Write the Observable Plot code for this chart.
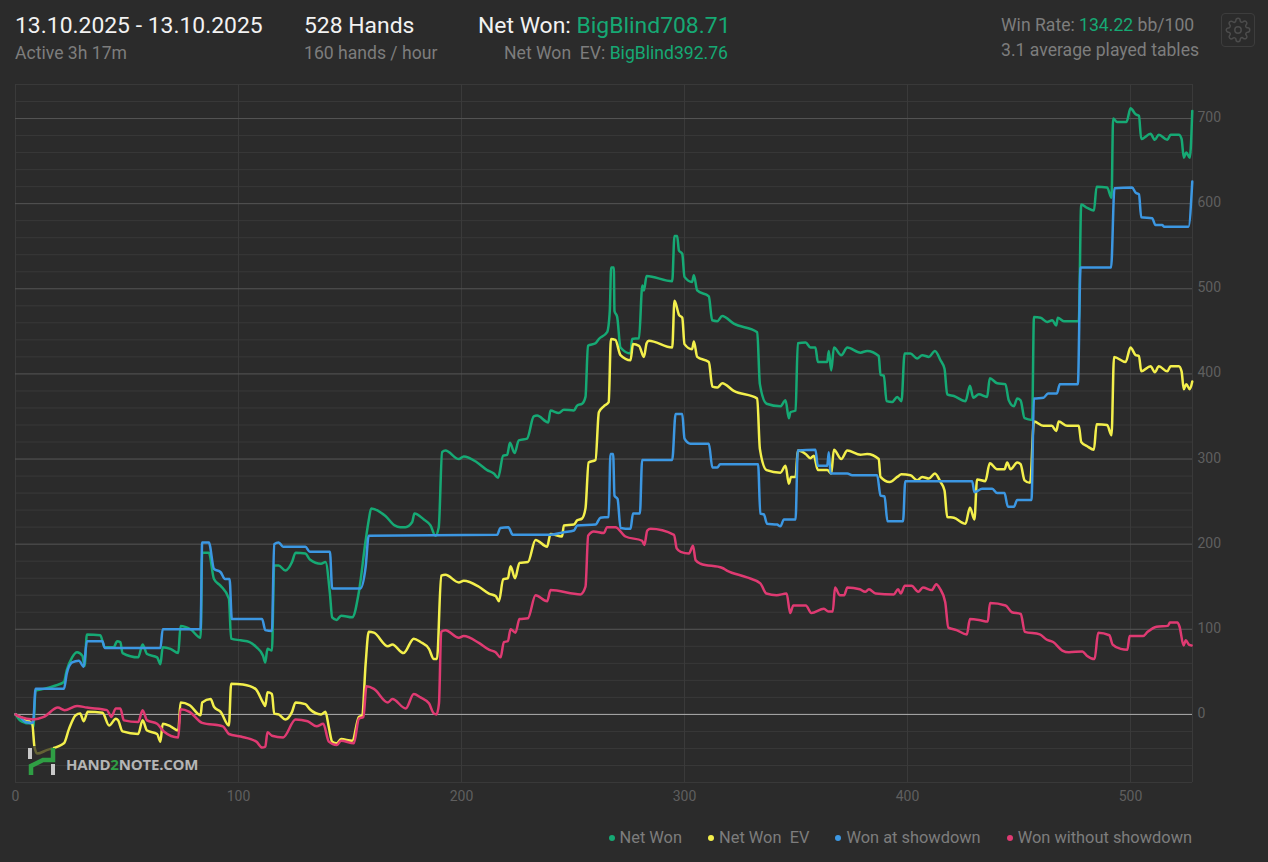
<!DOCTYPE html>
<html>
<head>
<meta charset="utf-8">
<script src="https://cdn.jsdelivr.net/npm/d3@7"></script>
<script src="https://cdn.jsdelivr.net/npm/@observablehq/plot@0.6"></script>
<style>
  html, body { margin: 0; padding: 0; background: #2b2b2b; }
  body { width: 1268px; height: 862px; position: relative; overflow: hidden; font-family: Roboto, sans-serif; color: #7d7d7d; }
  .t { position: absolute; white-space: pre; line-height: 1; }
  .big { font-size: 22.9px; color: #f2f2f2; }
  .small { font-size: 17.6px; }
  .g { color: #16a974; }
  #chart { position: absolute; left: 0; top: 76px; }
  #legend { position: absolute; right: 76px; top: 830px; display: flex; gap: 26px; font-size: 16.4px; line-height: 1; }
  #legend span.dot { display: inline-block; width: 6px; height: 6px; border-radius: 50%; margin-right: 5px; vertical-align: 2px; }
  #logo { position: absolute; left: 26px; top: 745px; }
  #logoText { position: absolute; left: 66px; top: 754px; font: 700 15px "Open Sans", sans-serif; color: #b5b5b5; letter-spacing: -.2px; }
  #gear { position: absolute; left: 1221px; top: 13px; width: 32px; height: 32px; border: 1px solid #3d3d3d; border-radius: 4px; }
</style>
</head>
<body>
<div class="t big" style="left:15px;top:15px">13.10.2025 - 13.10.2025</div>
<div class="t small" style="left:15px;top:45px">Active 3h 17m</div>
<div class="t big" style="left:304px;top:15px">528 Hands</div>
<div class="t small" style="left:304px;top:45px">160 hands / hour</div>
<div class="t big" style="left:478px;top:15px">Net Won: <span class="g">BigBlind708.71</span></div>
<div class="t small" style="left:504px;top:45px">Net Won  EV: <span class="g">BigBlind392.76</span></div>
<div class="t small" style="left:1001px;top:17px">Win Rate: <span class="g">134.22</span> bb/100</div>
<div class="t small" style="left:1001px;top:42px">3.1 average played tables</div>
<div id="gear">
  <svg width="32" height="32" viewBox="-3 -3 30 30" fill="none" stroke="#4c4c4c" stroke-width="1.4">
    <circle cx="12" cy="12" r="3"></circle>
    <path d="M19.4 15a1.65 1.65 0 0 0 .33 1.82l.06.06a2 2 0 0 1 0 2.83 2 2 0 0 1-2.83 0l-.06-.06a1.65 1.65 0 0 0-1.82-.33 1.65 1.65 0 0 0-1 1.51V21a2 2 0 0 1-2 2 2 2 0 0 1-2-2v-.09A1.65 1.65 0 0 0 9 19.4a1.65 1.65 0 0 0-1.82.33l-.06.06a2 2 0 0 1-2.83 0 2 2 0 0 1 0-2.83l.06-.06a1.65 1.65 0 0 0 .33-1.82 1.65 1.65 0 0 0-1.51-1H3a2 2 0 0 1-2-2 2 2 0 0 1 2-2h.09A1.65 1.65 0 0 0 4.6 9a1.65 1.65 0 0 0-.33-1.82l-.06-.06a2 2 0 0 1 0-2.83 2 2 0 0 1 2.83 0l.06.06a1.65 1.65 0 0 0 1.82.33H9a1.65 1.65 0 0 0 1-1.51V3a2 2 0 0 1 2-2 2 2 0 0 1 2 2v.09a1.65 1.65 0 0 0 1 1.51 1.65 1.65 0 0 0 1.82-.33l.06-.06a2 2 0 0 1 2.83 0 2 2 0 0 1 0 2.83l-.06.06a1.65 1.65 0 0 0-.33 1.82V9a1.65 1.65 0 0 0 1.51 1H21a2 2 0 0 1 2 2 2 2 0 0 1-2 2h-.09a1.65 1.65 0 0 0-1.51 1z"></path>
  </svg>
</div>
<div id="chart"></div>
<svg id="logo" width="34" height="34" viewBox="0 0 34 34">
  <rect x="6" y="1" width="21" height="13" fill="#2b2b2b" opacity=".72"></rect>
  <rect x="2" y="3" width="4" height="11" fill="#c9c9c9"></rect>
  <rect x="25" y="19" width="4" height="11" fill="#c9c9c9"></rect>
  <path d="M5 30V21L17 15H27V3" fill="none" stroke="#2f9e44" stroke-width="4.5"></path>
</svg>
<div id="logoText">HAND<span style="color:#2f9e44">2</span>NOTE.COM</div>
<div id="legend"></div>
<script>
var netWon = [[0,0],[2,-7],[4.5,-10],[7.5,-11],[8,-15],[9,28],[12.7,30],[18,34],[21.7,38],[23,52],[25.4,67],[27.6,73],[30,69],[31,57],[32,94],[38,93],[40,79],[44,79],[45.6,86],[47,85],[48,72],[55,67],[57,82],[59,71],[63.5,67],[65,59],[66,79],[69.5,77],[73,72],[74,104],[78.5,100],[83,90],[83.7,190],[86.7,190],[89,159],[92,151],[95.7,136],[96.7,89],[101,87],[105,85],[108,79],[111,69],[112,61],[113,77],[115,75],[116,175],[118,175],[121,169],[124,179],[125.6,190],[130,189],[132,182],[137,177],[139,179],[141,142],[142,114],[144,111],[146,116],[151,114],[154,144],[157,204],[158.4,228],[159.5,242],[165.9,233],[170,222],[172.6,220],[174.9,220],[177.9,226],[178.9,236],[183.1,229],[186.1,222],[188.3,210],[189.8,220],[191.3,308],[192.8,310],[198.8,300],[201,303],[207,296],[211.5,287],[214.5,283],[216.4,278],[218.7,304],[220.5,305],[221.7,319],[223.8,307],[225.7,322],[229.4,324],[232.4,350],[233.9,351],[238.9,343],[239.9,357],[243.6,354],[245.9,358],[250.4,357],[251.9,363],[254.1,365],[255.6,373],[256.7,433],[260.1,436],[261.6,441],[265.3,449],[266.5,474],[267.1,525],[268.3,525],[268.6,474],[269.8,467],[271.3,431],[275.8,424],[276.5,441],[279.6,442],[281.1,504],[281.8,498],[283,515],[294.5,509],[295.5,562],[296.7,562],[297.5,545],[299,541],[300,514],[303.4,508],[304.2,516],[305.7,498],[310.9,491],[312.4,463],[314.7,462],[316.9,468],[322.1,459],[332.6,449],[333.8,388],[336.8,365],[343,362],[345.3,369],[346.8,348],[347.5,355],[349.8,357],[350.8,436],[354.3,437],[356.5,431],[358.7,431],[359.8,414],[364,414],[364.7,427],[365.8,404],[367,431],[370.3,422],[373,431],[378.9,425],[381.9,427],[387.1,421],[387.9,399],[389.4,398],[390.6,368],[393.1,367],[395.4,373],[397.3,368],[398.7,424],[401.3,424],[404.3,418],[406.6,422],[409.6,420],[412.3,427],[414.8,416],[416.6,406],[417.8,376],[420.8,374],[426,368],[428,386],[429.5,372],[432,376],[435.7,373],[436.9,395],[440.2,389],[443.9,388],[445.4,369],[447.7,362],[449.2,371],[450.7,369],[452.5,348],[455.9,346],[456.7,467],[459.7,466],[462.6,461],[464.9,463],[466.7,457],[467.4,466],[470.1,462],[476.8,462],[477.9,599],[480.6,595],[483.6,592],[484.8,620],[489.5,619],[491.5,607],[492.2,700],[494,696],[498.2,696],[500,712],[502.3,705],[503.8,703],[504.8,676],[509,682],[510.9,675],[512.7,681],[516.5,675],[518,681],[521.7,681],[522.9,676],[523.9,654],[525,660],[526.6,654],[527.7,709]];

var netWonEv = [[0,0],[2,-3],[7.5,-11],[8.5,-38],[9.7,-46],[14,-42],[21.7,-34],[24,-17],[27,-1],[29,1],[30.6,-8],[32.4,3],[39,2],[42,-13],[45,-5],[46,-7],[48,-20],[55,-23],[57,-7],[59,-19],[63.5,-23],[65,-32],[66,-11],[69.5,-14],[73,-19],[74,14],[78,11],[83,-1],[83.7,14],[87.5,18],[89,9],[92,3],[95.7,-13],[96.7,36],[102,35],[107.6,30],[111,14],[112,10],[113,26],[115,24],[116,1],[118,0],[121,-6],[124,3],[125.6,14],[130,12],[132,6],[137,0],[139,3],[140.5,-15],[142,-32],[144,-34],[146,-29],[151,-31],[154,-3],[155.5,-1],[157,59],[158.4,97],[160.7,96],[167,80],[169,82],[174,72],[178.6,89],[181.6,85],[185.4,77],[187.6,65],[189,65],[190.9,163],[192.8,164],[198.8,155],[201,157],[207.8,150],[212.3,142],[215.3,139],[216.8,133],[218.7,159],[220.8,160],[222,174],[224,160],[226,178],[229.8,179],[233.2,205],[238.4,197],[239.9,212],[245.1,209],[245.9,222],[250.4,223],[251.9,228],[254,230],[255.6,242],[257,296],[260.1,299],[261.6,355],[263.8,362],[266,367],[267,441],[269,440],[271.3,422],[275.8,416],[276.9,435],[279.6,433],[281.8,420],[283,436],[284,439],[294.5,431],[295.5,486],[297.6,469],[299,466],[300,435],[303.4,429],[304.2,438],[305.7,420],[310.9,414],[312.5,385],[314.7,384],[316.9,389],[322.1,380],[332.6,371],[333.8,312],[336.8,287],[343,284],[345.3,292],[346.8,271],[347.8,279],[349.8,279],[350.8,310],[354.3,306],[356.5,301],[358,304],[359.8,287],[364,287],[365.8,283],[367,311],[370.3,300],[373,310],[378.9,305],[381.9,306],[387.1,300],[387.9,279],[392,273],[395.4,279],[397.3,282],[401.3,281],[404.3,275],[406.6,279],[409.6,277],[412.3,283],[414.8,273],[416.6,263],[417.8,232],[420.8,231],[426,224],[428,243],[430,229],[431.2,276],[434.9,274],[436.9,295],[440.2,288],[443.5,288],[444.7,296],[446.2,288],[449.2,296],[450.7,294],[452.5,275],[455,272],[456.7,344],[461,339],[464.7,339],[466.7,333],[467.8,344],[471.6,339],[476.8,339],[477.9,320],[480.6,315],[483.6,311],[484.8,341],[489.5,340],[491.5,328],[492.6,420],[497.8,414],[500,431],[502.3,422],[503.8,421],[504.8,403],[509,409],[510.9,402],[512.7,409],[516.5,403],[518,409],[521.7,409],[522.9,403],[523.9,382],[525,388],[526.6,382],[527.7,391]];

var wonShowdown = [[0,0],[2,-3],[4.5,-9],[7.5,-10],[8,-7],[9,30],[21.7,30],[23,48],[25.4,61],[28.4,63],[30.6,56],[32,86],[39,86],[40,78],[65,78],[66,100],[83,100],[83.7,202],[86.7,202],[89,171],[92,167],[94,159],[96,159],[97,112],[110.6,112],[112,99],[115,98],[116,200],[118,202],[120,197],[130,197],[132,191],[141,191],[142,148],[154.7,148],[157,173],[158.4,210],[216,211],[217.4,219],[221,220],[223,211],[239.9,211],[245.9,214],[250.4,216],[251.9,222],[260.1,223],[262.3,231],[266,232],[266.8,306],[268,306],[268.6,257],[270,253],[271.3,219],[275.8,218],[276.9,236],[280,236],[281,299],[294.5,299],[296,353],[299,353],[300,324],[302.7,318],[310.9,318],[312.5,290],[314.7,290],[316,294],[333,294],[334,236],[335.6,235],[337,224],[341.5,223],[343,221],[344.6,229],[349.8,229],[350.8,310],[358.7,311],[359.8,292],[364,292],[364.7,308],[365.5,283],[373,283],[375.2,281],[386.4,281],[387.9,257],[389.7,256],[391,227],[398,227],[399,274],[429,274],[430,261],[433.5,265],[438,265],[440.2,260],[443.5,260],[445,244],[447.7,244],[449.2,252],[455.6,252],[456.7,371],[461,372],[463,377],[467,377],[468.3,388],[476.4,388],[477.6,525],[491.3,525],[492.8,618],[500.7,619],[502.3,613],[503.8,611],[504.8,584],[509.7,583],[511.2,575],[514.2,575],[515,573],[526,573],[527.7,626]];

var wonNoShowdown = [[0,0],[2,-3],[8,-6],[12.7,-3],[19,8],[22,5],[27.6,10],[32,8],[41,5],[43,-3],[45,7],[47,7],[48.6,-7],[55,-9],[57,5],[59,-7],[63.5,-11],[66.5,-20],[73,-27],[74,6],[78,3],[83.7,-10],[93,-14],[95.7,-23],[101,-26],[108,-32],[110.6,-39],[112,-38],[113,-21],[115,-25],[120,-27],[125.6,-6],[131,-8],[135,-14],[138,-11],[140.5,-32],[144,-36],[146,-31],[151.7,-34],[154,-5],[156,-3],[157.4,33],[160.7,30],[167,14],[169,18],[175,7],[178.6,24],[181.6,20],[185.4,13],[187.6,1],[188.8,0],[189.9,13],[190.9,97],[192.8,99],[198.8,90],[201,92],[207.8,84],[212.3,76],[215.3,73],[217.5,67],[219,85],[220.8,86],[222,100],[224.2,96],[226,112],[229.8,113],[233.2,140],[238.4,133],[239.9,146],[253.4,141],[255.6,150],[256.8,210],[259.3,215],[263.8,213],[265.3,220],[269,220],[273.5,209],[281,204],[282,199],[283.3,216],[284.8,218],[295.3,211],[296.5,195],[298.3,191],[302,189],[303.8,198],[305,181],[307.2,177],[317,172],[319,169],[328,161],[334,154],[336.7,142],[341.3,140],[345.8,142],[347.4,119],[348.8,128],[354.4,128],[356.9,119],[362.5,124],[364.5,121],[366.5,121],[367.5,149],[369.6,140],[371.6,140],[373,149],[378.6,147],[381,144],[382.7,147],[385.7,142],[393.8,141],[395.8,147],[397,142],[398.8,151],[401.8,151],[404.8,144],[406.9,149],[410.9,146],[412.9,153],[414.5,148],[416.9,132],[418.3,102],[422,99],[426.6,94],[428,112],[432,111],[436,109],[437,131],[444,128],[446.8,120],[450.8,118],[452.6,97],[459.3,94],[462.3,88],[465.3,85],[469.4,75],[472.4,73],[478.4,74],[480.4,69],[483.9,65],[485.5,96],[490.5,93],[492,82],[495.6,77],[498.6,76],[499.6,92],[505.6,92],[507.7,97],[511.7,103],[516.7,104],[517.7,108],[521,108],[522,103],[523.8,81],[524.8,87],[526.2,82],[527.4,81]];

var seriesNames = ['Net Won', 'Net Won  EV', 'Won at showdown', 'Won without showdown'];
var seriesColors = ['#16a974', '#f3ef4c', '#3c97e2', '#df3a72'];
var seriesValues = [netWon, netWonEv, wonShowdown, wonNoShowdown];

var xTicks = [0, 100, 200, 300, 400, 500];
var yTicks = [0, 100, 200, 300, 400, 500, 600, 700];
var yMinor = d3.range(-80, 741, 20).filter(function (v) { return v % 100 !== 0; });
var xDomain = [0, 527.8];
var yDomain = [-80, 740];

var rows = [];
seriesValues.forEach(function (vals, i) {
  vals.forEach(function (p) { rows.push({ hand: p[0], won: p[1], name: seriesNames[i] }); });
});

var chart = Plot.plot({
  width: 1268,
  height: 740,
  marginLeft: 15,
  marginRight: 76,
  marginTop: 8,
  marginBottom: 34,
  style: { background: 'transparent', fontFamily: 'Roboto, sans-serif' },
  x: { domain: xDomain, label: null },
  y: { domain: yDomain, label: null },
  color: { domain: seriesNames, range: seriesColors },
  marks: [
    Plot.ruleY(yMinor, { stroke: '#393939', strokeWidth: 1 }),
    Plot.ruleX(xTicks.concat([xDomain[1]]), { stroke: '#3a3a3a', strokeWidth: 1 }),
    Plot.ruleY(yTicks.filter(function (v) { return v !== 0; }), { stroke: '#565656', strokeWidth: 1 }),
    Plot.ruleY([0], { stroke: '#b0b0b0', strokeWidth: 1 }),
    Plot.axisX({ ticks: xTicks, tickSize: 0, tickPadding: 9, tickFormat: 'd', fontSize: 14, color: '#5f5f5f' }),
    Plot.axisY({ anchor: 'right', ticks: yTicks, tickSize: 0, tickPadding: 5, dy: -1, tickFormat: 'd', fontSize: 14, color: '#5f5f5f' }),
    Plot.line(rows, { x: 'hand', y: 'won', z: 'name', stroke: 'name', strokeWidth: 2.5, curve: 'monotone-x', strokeLinejoin: 'round' })
  ]
});
document.getElementById('chart').appendChild(chart);

var legend = document.getElementById('legend');
seriesNames.forEach(function (name, i) {
  var item = document.createElement('div');
  item.style.whiteSpace = 'pre';
  var dot = document.createElement('span');
  dot.className = 'dot';
  dot.style.background = seriesColors[i];
  item.appendChild(dot);
  item.appendChild(document.createTextNode(name));
  legend.appendChild(item);
});
</script>
</body>
</html>
